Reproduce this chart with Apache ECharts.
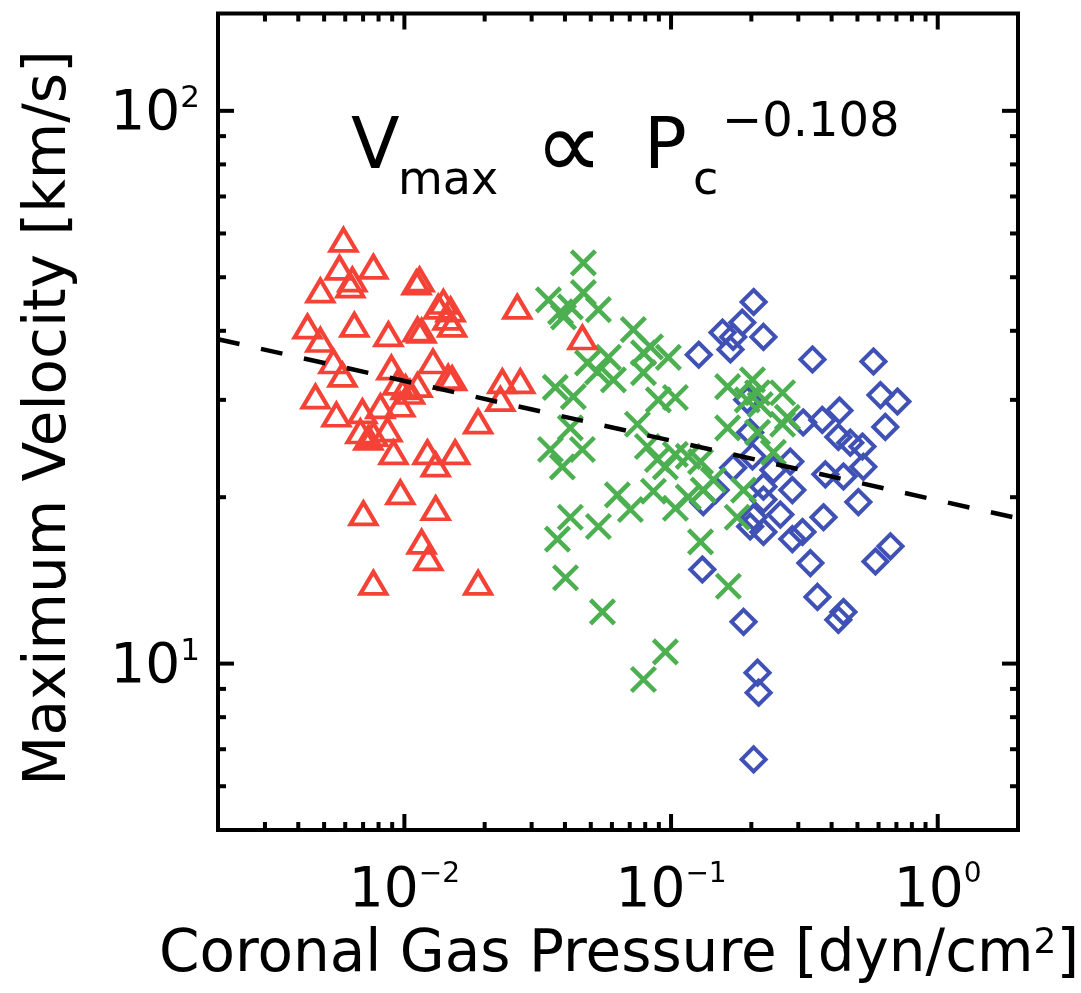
<!DOCTYPE html>
<html>
<head>
<meta charset="utf-8">
<script src="https://cdn.jsdelivr.net/npm/echarts@6/dist/echarts.min.js"></script>
<style>
  html, body { margin: 0; padding: 0; background: #fff; }
  #chart { width: 1081px; height: 993px; }
</style>
</head>
<body>
<div id="chart"></div>
<script>
// ---- axis ranges and ticks ----
const xRange = [0.002, 2];
const yRange = [5, 150];
const xMajorTicks = [0.01, 0.1, 1];
const xTickExponents = ['\u22122', '\u22121', '0'];
const xMinorTicks = [0.003, 0.004, 0.005, 0.006, 0.007, 0.008, 0.009,
                     0.02, 0.03, 0.04, 0.05, 0.06, 0.07, 0.08, 0.09,
                     0.2, 0.3, 0.4, 0.5, 0.6, 0.7, 0.8, 0.9];
const yMajorTicks = [10, 100];
const yTickExponents = ['1', '2'];
const yMinorTicks = [6, 7, 8, 9, 20, 30, 40, 50, 60, 70, 80, 90];

// ---- observations: [pressure dyn/cm^2, max velocity km/s] ----
const lowPressure = [
  [0.00591, 58.4], [0.00571, 52.0], [0.00638, 49.5], [0.00627, 48.3], [0.00765, 52.2],
  [0.00484, 47.3], [0.0111, 48.9], [0.0114, 49.5], [0.0265, 44.2], [0.00433, 40.7],
  [0.00484, 38.5], [0.00649, 41.0], [0.00871, 39.4], [0.0112, 40.2], [0.0116, 40.0],
  [0.0134, 44.2], [0.0140, 45.1], [0.0149, 43.7], [0.0151, 41.0], [0.0145, 42.2],
  [0.0465, 38.9], [0.00542, 35.2], [0.00586, 33.3], [0.00894, 34.3], [0.0128, 35.2],
  [0.0146, 33.0], [0.0151, 32.8], [0.0112, 31.9], [0.0233, 32.4], [0.0272, 32.4],
  [0.00464, 30.4], [0.00941, 32.2], [0.0229, 30.1], [0.0101, 31.6], [0.00556, 28.2],
  [0.00696, 28.6], [0.00813, 29.2], [0.00966, 29.4], [0.00684, 26.3], [0.00765, 26.0],
  [0.00864, 26.5], [0.00733, 25.6], [0.00910, 24.1], [0.0122, 24.1], [0.0131, 22.9],
  [0.0155, 24.1], [0.0189, 27.4], [0.00966, 20.4], [0.00702, 18.7], [0.0131, 19.1],
  [0.0116, 16.6], [0.0123, 15.5], [0.00765, 14.0], [0.0189, 14.0], [0.0105, 31.0]
];
const midPressure = [
  [0.0469, 53.1], [0.0347, 45.5], [0.0385, 43.3], [0.0419, 44.2], [0.0469, 46.9],
  [0.0534, 43.7], [0.0395, 42.4], [0.0722, 40.2], [0.0486, 35.0], [0.0582, 35.8],
  [0.0530, 33.7], [0.0608, 32.6], [0.0368, 31.6], [0.0430, 30.4], [0.0788, 36.5],
  [0.0788, 33.6], [0.0837, 37.4], [0.0977, 35.8], [0.0896, 30.0], [0.1038, 30.3],
  [0.163, 31.7], [0.202, 32.6], [0.211, 30.9], [0.262, 30.9], [0.0419, 26.7],
  [0.0353, 24.4], [0.0465, 24.4], [0.0391, 22.7], [0.0748, 27.1], [0.0815, 24.7],
  [0.0629, 20.2], [0.0704, 19.0], [0.0419, 18.4], [0.0534, 17.7], [0.0375, 16.8],
  [0.0402, 14.3], [0.0553, 12.4], [0.0788, 9.36], [0.0889, 23.4], [0.0952, 22.7],
  [0.1038, 23.9], [0.116, 23.7], [0.129, 23.2], [0.0859, 20.5], [0.1038, 19.1],
  [0.116, 20.0], [0.132, 20.6], [0.144, 21.5], [0.163, 26.7], [0.211, 26.2],
  [0.242, 24.1], [0.262, 27.1], [0.273, 27.9], [0.193, 30.0], [0.216, 29.4],
  [0.177, 18.4], [0.187, 20.6], [0.129, 16.6], [0.164, 13.8], [0.0952, 10.5]
];
const highPressure = [
  [0.204, 45.1], [0.156, 39.7], [0.185, 41.4], [0.171, 39.0], [0.167, 37.0],
  [0.222, 39.0], [0.127, 36.2], [0.339, 35.5], [0.574, 35.2], [0.610, 30.6],
  [0.706, 29.8], [0.428, 28.7], [0.369, 27.6], [0.313, 27.3], [0.193, 30.0],
  [0.636, 26.8], [0.424, 25.7], [0.470, 25.1], [0.522, 24.7], [0.526, 22.7],
  [0.379, 22.0], [0.443, 21.8], [0.198, 26.2], [0.202, 23.7], [0.242, 22.4],
  [0.280, 23.2], [0.285, 20.6], [0.222, 20.9], [0.222, 19.8], [0.171, 22.6],
  [0.147, 20.6], [0.132, 19.6], [0.204, 18.4], [0.257, 18.6], [0.198, 17.7],
  [0.222, 17.3], [0.373, 18.4], [0.285, 16.8], [0.311, 17.3], [0.504, 19.6],
  [0.665, 16.3], [0.584, 15.3], [0.333, 15.2], [0.131, 14.8], [0.354, 13.2],
  [0.187, 11.9], [0.424, 12.0], [0.443, 12.4], [0.211, 9.63], [0.213, 8.86],
  [0.204, 6.71]
];

// ---- power-law fit V = A * P^k ----
const fitCoefficient = 19.74;
const fitExponent = -0.108;
const fitLine = xRange.map(p => [p, fitCoefficient * Math.pow(p, fitExponent)]);

const RED = '#F44336', GREEN = '#4CAF50', BLUE = '#3F51B5';
const FONT = '"DejaVu Sans", sans-serif';

const xTickData = xMajorTicks.map((v, i) => [v, yRange[0], 1, i])
  .concat(xMinorTicks.map(v => [v, yRange[0], 0, -1]));
const yTickData = yMajorTicks.map((v, i) => [xRange[0], v, 1, i])
  .concat(yMinorTicks.map(v => [xRange[0], v, 0, -1]));

function tickLine(x1, y1, x2, y2) {
  return { type: 'line', shape: { x1, y1, x2, y2 }, style: { stroke: '#000', lineWidth: 4 } };
}

function renderXTick(params, api) {
  const v = api.value(0);
  const major = api.value(2) === 1;
  const bottom = api.coord([v, yRange[0]]);
  const top = api.coord([v, yRange[1]]);
  const len = major ? 16 : 8;
  const children = [
    tickLine(bottom[0], bottom[1], bottom[0], bottom[1] - len),
    tickLine(top[0], top[1], top[0], top[1] + len)
  ];
  if (major) {
    children.push({
      type: 'text', x: bottom[0], y: bottom[1] + 62,
      style: {
        text: '10{s|' + xTickExponents[api.value(3)] + '}',
        font: '55px ' + FONT, lineHeight: 62,
        fill: '#000', align: 'center', verticalAlign: 'middle',
        rich: { s: { font: '28px ' + FONT, lineHeight: 24, verticalAlign: 'top', fill: '#000' } }
      }
    });
  }
  return { type: 'group', children };
}

function renderYTick(params, api) {
  const v = api.value(1);
  const major = api.value(2) === 1;
  const left = api.coord([xRange[0], v]);
  const right = api.coord([xRange[1], v]);
  const len = major ? 16 : 8;
  const children = [
    tickLine(left[0], left[1], left[0] + len, left[1]),
    tickLine(right[0], right[1], right[0] - len, right[1])
  ];
  if (major) {
    children.push({
      type: 'text', x: 200, y: left[1] + 4,
      style: {
        text: '10{s|' + yTickExponents[api.value(3)] + '}',
        font: '55px ' + FONT, lineHeight: 62,
        fill: '#000', align: 'right', verticalAlign: 'middle',
        rich: { s: { font: '31px ' + FONT, lineHeight: 22, verticalAlign: 'top', fill: '#000' } }
      }
    });
  }
  return { type: 'group', children };
}

function formulaText(text, x, y, size, align) {
  return {
    type: 'text', x, y, silent: true,
    style: { text, font: size + 'px ' + FONT, fill: '#000',
             align: align || 'left', verticalAlign: 'middle' }
  };
}

const chart = echarts.init(document.getElementById('chart'), null, { renderer: 'canvas' });

chart.setOption({
  animation: false,
  backgroundColor: '#fff',
  grid: {
    left: 218, top: 13.5, width: 800, height: 816.5,
    show: true, borderColor: '#000', borderWidth: 4, backgroundColor: 'transparent',
    outerBoundsMode: 'none'
  },
  xAxis: {
    type: 'log', logBase: 10, min: xRange[0], max: xRange[1],
    axisLine: { show: false }, axisTick: { show: false },
    axisLabel: { show: false }, splitLine: { show: false }, minorTick: { show: false }
  },
  yAxis: {
    type: 'log', logBase: 10, min: yRange[0], max: yRange[1],
    axisLine: { show: false }, axisTick: { show: false },
    axisLabel: { show: false }, splitLine: { show: false }, minorTick: { show: false }
  },
  series: [
    {
      name: 'High pressure', type: 'scatter', data: highPressure, silent: true,
      symbol: 'diamond', symbolSize: 24,
      itemStyle: { color: 'rgba(0,0,0,0)', borderColor: BLUE, borderWidth: 4, opacity: 1 }
    },
    {
      name: 'Intermediate pressure', type: 'scatter', data: midPressure, silent: true,
      symbol: 'path://M0,0L22,22M22,0L0,22', symbolSize: 24,
      itemStyle: { color: 'rgba(0,0,0,0)', borderColor: GREEN, borderWidth: 4.5, opacity: 1 }
    },
    {
      name: 'Low pressure', type: 'scatter', data: lowPressure, silent: true,
      symbol: 'triangle', symbolSize: [26, 22],
      itemStyle: { color: 'rgba(0,0,0,0)', borderColor: RED, borderWidth: 4, opacity: 1 }
    },
    {
      name: 'Fit', type: 'line', data: fitLine, silent: true, symbol: 'none',
      lineStyle: { color: '#000', width: 4.5, type: [22, 22], opacity: 1 }, z: 5
    },
    {
      name: 'x ticks', type: 'custom', data: xTickData, silent: true,
      encode: { x: 0, y: 1 }, renderItem: renderXTick, z: 10
    },
    {
      name: 'y ticks', type: 'custom', data: yTickData, silent: true,
      encode: { x: 0, y: 1 }, renderItem: renderYTick, z: 10
    }
  ],
  graphic: [
    // axis titles
    {
      type: 'text', x: 619, y: 956, silent: true,
      style: {
        text: 'Coronal Gas Pressure [dyn/cm{s|2}]',
        font: '58px ' + FONT, lineHeight: 60, fill: '#000',
        align: 'center', verticalAlign: 'middle',
        rich: { s: { font: '36px ' + FONT, lineHeight: 36, verticalAlign: 'top', fill: '#000' } }
      }
    },
    {
      type: 'text', x: 50, y: 418, rotation: Math.PI / 2, silent: true,
      style: {
        text: 'Maximum Velocity [km/s]',
        font: '58px ' + FONT, fill: '#000',
        align: 'center', verticalAlign: 'middle'
      }
    },
    // power-law annotation
    formulaText('V', 351, 150, 71),
    formulaText('max', 398, 182, 46),
    formulaText('\u221D', 569, 153, 96, 'center'),
    formulaText('P', 644, 150, 71),
    formulaText('c', 693, 182, 46),
    formulaText('\u22120.108', 722, 124, 48)
  ]
});
</script>
</body>
</html>
